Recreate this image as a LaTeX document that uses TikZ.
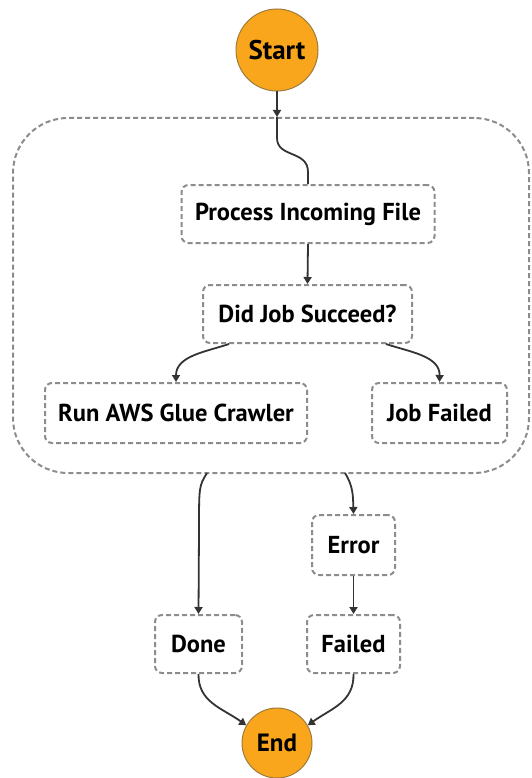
\documentclass[tikz,border=0pt]{standalone}
\usepackage{fontspec}
\setmainfont{PT Sans}
\usetikzlibrary{arrows.meta}
\definecolor{stateorange}{HTML}{F9A61C}
\definecolor{stateedge}{HTML}{9C7B3C}
\definecolor{dashgray}{HTML}{8C8C8C}
\definecolor{linkgray}{HTML}{333333}
\tikzset{
  statebox/.style={draw=dashgray, line width=2pt, dash pattern=on 5pt off 3pt,
    rounded corners=7pt, fill=white, inner sep=0pt,
    font=\fontsize{24.5}{26}\selectfont\bfseries},
  terminal/.style={circle, draw=stateedge, line width=1pt, fill=stateorange,
    inner sep=0pt, font=\fontsize{27}{29}\selectfont\bfseries},
  groupbox/.style={draw=dashgray, line width=2pt, dash pattern=on 5pt off 3pt,
    rounded corners=55pt, inner sep=0pt},
  link/.style={draw=linkgray, line width=1.8pt},
  linkarrow/.style={link, -{Triangle[length=7pt,width=8pt]}},
}
\begin{document}
\begin{tikzpicture}[x=1pt, y=-1pt]
\useasboundingbox (0,0) rectangle (531,778);

% parallel group frame
\node[groupbox, minimum width=516pt, minimum height=355pt] (grp) at (271,295.5) {};

% states
\node[terminal, minimum size=82pt] (start) at (277,50) {Start};
\node[statebox, minimum width=253pt, minimum height=58pt] (proc) at (308,214) {Process Incoming File};
\node[statebox, minimum width=209pt, minimum height=58pt] (did) at (307.5,314) {Did Job Succeed?};
\node[statebox, minimum width=262pt, minimum height=60pt] (run) at (176,413) {Run AWS Glue Crawler};
\node[statebox, minimum width=135pt, minimum height=60pt] (jf) at (439.5,413) {Job Failed};
\node[statebox, minimum width=83pt, minimum height=60pt] (err) at (353.5,545) {Error};
\node[statebox, minimum width=87pt, minimum height=58pt] (done) at (198.5,644) {Done};
\node[statebox, minimum width=93pt, minimum height=58pt] (failed) at (353.5,644) {Failed};
\node[terminal, minimum size=70pt, font=\fontsize{25}{27}\selectfont\bfseries] (end) at (277,743) {End};

% points where links cross the group frame
\coordinate (entry) at (start.south |- grp.north);
\coordinate (exitok) at (207,473);
\coordinate (exiterr) at (345,473);

% links
\draw[linkarrow] (start.south) -- (entry);
\draw[link] (entry) -- (277,138) .. controls (277,158) and (308,150) .. (308,172) -- (proc.north);
\draw[linkarrow] (proc.south) -- (did.north);
\draw[linkarrow] ([xshift=27pt]did.south west) .. controls (205,352) and (176,356) .. (run.north);
\draw[linkarrow] ([xshift=-27pt]did.south east) .. controls (410,352) and (440,356) .. (jf.north);
\draw[linkarrow] (exitok) .. controls (199,486) .. (199,530) -- (done.north);
\draw[linkarrow] (exiterr) .. controls (353,486) and (353,495) .. (err.north);
\draw[linkarrow] (err.south) -- (failed.north);
\draw[linkarrow] (done.south) .. controls (198,702) and (222,708) .. (end.150);
\draw[linkarrow] (failed.south) .. controls (354,702) and (332,708) .. (end.30);
\end{tikzpicture}
\end{document}
